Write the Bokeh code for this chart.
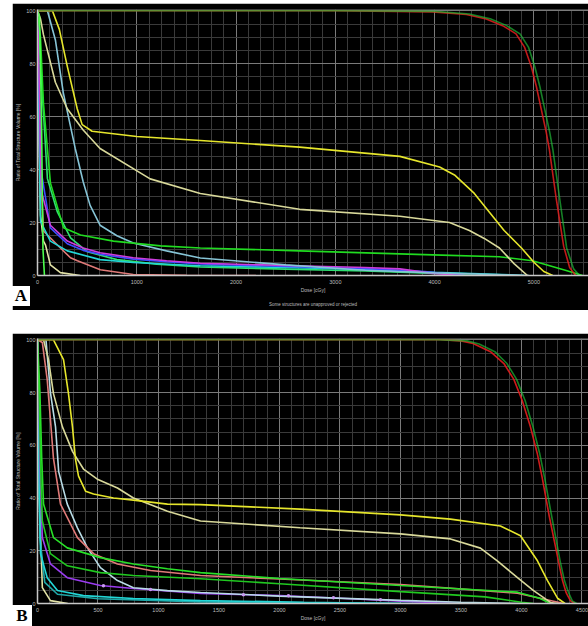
from bokeh.plotting import figure
from bokeh.layouts import column, row
from bokeh.models import Spacer, Range1d, SingleIntervalTicker, Title, Div
from bokeh.embed import file_html
from bokeh.resources import INLINE

# ---------------- Panel A data (dose cGy, volume %) ----------------
a_red_dose = [0, 3000, 3980, 4320, 4520, 4685, 4820, 4905, 4975, 5025, 5075, 5125, 5155, 5225, 5300, 5360, 5420]
a_red_vol = [100, 100, 99.6, 98.6, 96.9, 94.4, 91.3, 86.3, 78.8, 71.4, 62.7, 54, 47.8, 29, 11, 3, 0]
a_green_dose = [0, 3000, 4000, 4350, 4560, 4720, 4860, 4945, 5010, 5060, 5110, 5160, 5190, 5260, 5330, 5400, 5460]
a_green_vol = [100, 100, 99.8, 98.8, 97, 94.5, 91.3, 86.3, 78.8, 71.4, 62.7, 54, 47.8, 29, 10.4, 2.5, 0]
a_yellow_dose = [0, 150, 220, 300, 400, 450, 550, 1000, 1640, 2640, 3650, 4050, 4200, 4400, 4550, 4700, 4875, 5000, 5100, 5190]
a_yellow_vol = [100, 100, 93, 79, 63, 57, 54.5, 52.5, 51, 48.5, 45, 41, 38, 31, 24, 17, 10.4, 5, 1.5, 0]
a_khaki_dose = [0, 30, 60, 180, 300, 460, 630, 1135, 1640, 2640, 3650, 4150, 4350, 4500, 4653, 4800, 4935]
a_khaki_vol = [100, 97, 91, 73, 63, 55, 48, 36.5, 31, 25, 22.4, 20, 17, 14, 10.4, 4.5, 0]
a_ltblue_dose = [0, 100, 180, 260, 380, 460, 530, 630, 800, 965, 1300, 1640, 2500, 3300, 4000, 4950]
a_ltblue_vol = [100, 100, 89, 69, 48, 35.4, 26.5, 19, 15, 12.3, 9.3, 6.6, 4, 2, 1, 0]
a_grnup_dose = [0, 30, 60, 130, 262, 433, 765, 1240, 1640, 2640, 3980, 4650, 4985, 5325, 5490]
a_grnup_vol = [100, 90, 65, 35, 18, 15.3, 13, 11.2, 10.4, 9.3, 7.8, 7.1, 5.6, 1.9, 0]
a_magenta_dose = [0, 20, 30, 40, 130, 300, 460, 630, 965, 1300, 1640, 2500, 3300, 3650, 3980, 4200, 4300]
a_magenta_vol = [100, 70, 45, 31.7, 19, 13, 10.4, 8.6, 6.7, 5.6, 4.6, 3.8, 3, 2.5, 0.8, 0.2, 0]
a_blue_dose = [0, 20, 35, 130, 300, 460, 630, 965, 1300, 1640, 2500, 3300, 3900, 4300]
a_blue_vol = [100, 65, 40, 18, 12, 9.5, 8, 6.2, 5.2, 4.4, 3.4, 2.6, 1.5, 0]
a_cyan_dose = [0, 15, 30, 130, 300, 630, 965, 1640, 2500, 3300, 4000, 4600, 4900]
a_cyan_vol = [100, 60, 20.5, 13, 9.3, 6, 4.9, 3.7, 3, 2.3, 1.2, 0.5, 0]
a_grnlow_dose = [0, 30, 100, 200, 333, 500, 800, 1200, 1640, 2500, 3300, 4000, 4400]
a_grnlow_vol = [100, 80, 36.6, 24, 14.2, 9, 6, 4.3, 3.2, 2.4, 1.7, 0.8, 0]
a_pink_dose = [0, 20, 60, 231, 332, 402, 633, 965, 1500, 2200]
a_pink_vol = [100, 50, 16.8, 10.4, 6.7, 5.6, 2.2, 0.4, 0.1, 0]
a_beige_dose = [0, 10, 30, 60, 80, 130, 231, 430]
a_beige_vol = [100, 60, 22.8, 13, 11.6, 4, 1.1, 0]
a_lime_dose = [0, 20, 40, 55, 70]
a_lime_vol = [100, 98, 60, 10, 0]

# ---------------- Panel B data ----------------
b_red_dose = [0, 3330, 3500, 3600, 3744, 3855, 3937, 4006, 4074, 4130, 4170, 4230, 4306, 4339, 4370, 4405, 4440]
b_red_vol = [100, 100, 99.6, 98.6, 95.5, 91, 85, 77, 67, 57, 48, 33, 16, 8.7, 4, 1, 0]
b_green_dose = [0, 3300, 3550, 3650, 3780, 3880, 3960, 4030, 4095, 4150, 4190, 4250, 4320, 4355, 4390, 4420, 4455]
b_green_vol = [100, 100, 99.6, 98.4, 95.5, 91, 85, 77, 67, 57, 48, 33, 16, 8.7, 4, 1, 0]
b_yellow_dose = [0, 132, 215, 256, 289, 314, 339, 397, 463, 628, 793, 1074, 1347, 2170, 3000, 3413, 3826, 3992, 4132, 4215, 4298, 4360]
b_yellow_vol = [100, 100, 92.5, 79.6, 67, 54.7, 48.3, 42.6, 41.5, 40, 39.2, 37.7, 37.5, 35.8, 33.6, 32, 29.4, 25.7, 16.2, 8.7, 2, 0]
b_khaki_dose = [0, 50, 91, 132, 206, 289, 380, 500, 661, 793, 1074, 1347, 2170, 3000, 3413, 3661, 3800, 3967, 4100, 4240, 4300]
b_khaki_vol = [100, 100, 92.5, 79.6, 67, 57.7, 51, 47, 43.8, 40, 35, 31.3, 28.7, 26.4, 24.5, 21, 16.2, 9.8, 4.9, 0.4, 0]
b_ltblue_dose = [0, 70, 107, 149, 175, 246, 330, 413, 520, 661, 793, 1074, 1347, 2000, 3000, 3500, 4000]
b_ltblue_vol = [100, 100, 80, 67, 50, 37.7, 28.7, 21.1, 13.6, 8.7, 6, 4.9, 4.2, 2.8, 1.2, 0.5, 0]
b_salmon_dose = [0, 40, 80, 110, 132, 149, 190, 330, 463, 661, 934, 1347, 2000, 3000, 3967, 4200, 4350]
b_salmon_vol = [100, 99, 85, 68, 55, 50, 37.7, 25, 18.9, 15, 12.5, 10.6, 9.3, 7.2, 3.9, 1.5, 0]
b_grnup_dose = [0, 20, 35, 50, 132, 246, 520, 793, 1074, 1347, 2000, 3000, 3967, 4150, 4240]
b_grnup_vol = [100, 80, 55, 37.7, 25, 21.1, 17.4, 15, 13.2, 11.7, 9.5, 6.8, 4.3, 2, 0]
b_grnlow_dose = [0, 15, 30, 40, 107, 246, 520, 793, 1347, 2000, 3000, 3700, 4000, 4100]
b_grnlow_vol = [100, 75, 45, 31.3, 18.9, 14.3, 11.7, 10.6, 9.4, 7.5, 4.5, 2.5, 0.5, 0]
b_purple_dose = [0, 10, 25, 40, 107, 246, 520, 793, 1347, 2000, 2500, 3000, 3300, 3500]
b_purple_vol = [100, 80, 45, 25, 15, 9.8, 6.8, 5.7, 3.8, 3, 2, 0.9, 0.3, 0]
b_purple_mark_dose = [545, 934, 1702, 2074, 2446, 2835]
b_purple_mark_vol = [6.7, 5.3, 3.3, 2.9, 2.2, 1.4]
b_cyan_dose = [0, 8, 15, 25, 80, 165, 380, 793, 1347, 2200, 3000]
b_cyan_vol = [100, 70, 40, 18.9, 9.8, 4.9, 3, 1.9, 1.1, 0.5, 0]
b_teal_dose = [0, 10, 20, 60, 165, 500, 1347, 2500, 3500]
b_teal_vol = [100, 60, 25, 8, 3.5, 1.8, 0.6, 0.2, 0]
b_beige_dose = [0, 5, 15, 40, 107, 250]
b_beige_vol = [100, 80, 40, 6, 1.1, 0]

x_label = "Dose [cGy]"
y_label = "Ratio of Total Structure Volume [%]"
note_text = "Some structures are unapproved or rejected"
panel_letters = ["A", "B"]

GRID_MAJOR = "#7a7a7a"
GRID_MINOR = "#3a3a3a"
TXT = "#bdbdbd"


def make_panel(width, height, xmax, xint, xminor, top_border, bottom_border):
    p = figure(width=width, height=height, output_backend="svg", toolbar_location=None,
               x_range=Range1d(0, xmax), y_range=Range1d(0, 100.5),
               min_border_left=25, min_border_right=0, min_border_top=top_border,
               min_border_bottom=bottom_border)
    p.background_fill_color = "black"
    p.border_fill_color = "black"
    p.outline_line_color = None
    xt = SingleIntervalTicker(interval=xint, num_minor_ticks=xminor)
    yt = SingleIntervalTicker(interval=20, num_minor_ticks=4)
    p.xaxis.ticker = xt
    p.yaxis.ticker = yt
    p.xgrid.ticker = xt
    p.ygrid.ticker = yt
    for g in (p.xgrid, p.ygrid):
        g.grid_line_color = GRID_MAJOR
        g.grid_line_width = 1
        g.minor_grid_line_color = GRID_MINOR
        g.minor_grid_line_width = 1
    for ax in (p.xaxis, p.yaxis):
        ax.axis_line_color = "#c8c8c8"
        ax.axis_line_width = 1.5
        ax.major_tick_line_color = None
        ax.minor_tick_line_color = None
        ax.major_tick_in = 0
        ax.major_tick_out = 0
        ax.minor_tick_in = 0
        ax.minor_tick_out = 0
        ax.major_label_text_color = TXT
        ax.major_label_text_font = "Liberation Sans"
        ax.major_label_text_font_size = "5.5px"
        ax.axis_label_text_color = TXT
        ax.axis_label_text_font = "Liberation Sans"
        ax.axis_label_text_font_size = "5px"
        ax.axis_label_text_font_style = "normal"
    p.xaxis.axis_label = x_label
    p.xaxis.major_label_standoff = 4
    p.xaxis.axis_label_standoff = 0
    p.yaxis.axis_label = y_label
    p.yaxis.major_label_standoff = 2
    p.yaxis.axis_label_standoff = 2
    return p


W = 576
HA, HB = 307, 293
pA = make_panel(W, HA, 5550, 1000, 8, 6, 33)
pB = make_panel(W, HB, 4554, 500, 5, 5, 23)

LW = 1.6
curvesA = [
    (a_beige_dose, a_beige_vol, "#e2e2a6", 1),
    (a_pink_dose, a_pink_vol, "#e07a78", 1),
    (a_grnlow_dose, a_grnlow_vol, "#2ee070", 1),
    (a_cyan_dose, a_cyan_vol, "#22d6d6", 1),
    (a_blue_dose, a_blue_vol, "#3c4cff", 1),
    (a_magenta_dose, a_magenta_vol, "#cc3cdc", 1),
    (a_ltblue_dose, a_ltblue_vol, "#86c4d6", 1),
    (a_grnup_dose, a_grnup_vol, "#20dc20", 1),
    (a_khaki_dose, a_khaki_vol, "#d9d99a", 1),
    (a_yellow_dose, a_yellow_vol, "#e6e62c", 1),
    (a_lime_dose, a_lime_vol, "#4cff4c", 1),
    (a_red_dose, a_red_vol, "#e41e1e", 0.85),
    (a_green_dose, a_green_vol, "#22c43a", 0.65),
]
for xs, ys, c, al in curvesA:
    pA.line(xs, ys, line_color=c, line_width=LW, line_alpha=al)

curvesB = [
    (b_beige_dose, b_beige_vol, "#e2e2a6", 1),
    (b_teal_dose, b_teal_vol, "#1fa8a8", 1),
    (b_cyan_dose, b_cyan_vol, "#22d6d6", 1),
    (b_purple_dose, b_purple_vol, "#9a3cf0", 1),
    (b_ltblue_dose, b_ltblue_vol, "#b8dce6", 1),
    (b_grnlow_dose, b_grnlow_vol, "#20c820", 1),
    (b_salmon_dose, b_salmon_vol, "#e07a78", 1),
    (b_grnup_dose, b_grnup_vol, "#28e028", 1),
    (b_khaki_dose, b_khaki_vol, "#d9d99a", 1),
    (b_yellow_dose, b_yellow_vol, "#e6e62c", 1),
    (b_red_dose, b_red_vol, "#e41e1e", 0.9),
    (b_green_dose, b_green_vol, "#22c43a", 0.65),
]
for xs, ys, c, al in curvesB:
    pB.line(xs, ys, line_color=c, line_width=LW, line_alpha=al)
pB.scatter(b_purple_mark_dose, b_purple_mark_vol, size=3.5, marker="circle",
           fill_color="#c89af0", line_color=None)

note = Title(text=note_text, align="center", text_color=TXT, text_font="Liberation Sans",
             text_font_size="4.5px", text_font_style="normal", standoff=8)
pA.add_layout(note, "below")


def letter_box(letter, w, h, top_margin):
    st = {"background-color": "white", "color": "black", "font-family": "Liberation Serif",
          "font-weight": "bold", "font-size": "17px", "text-align": "center",
          "line-height": "%dpx" % h, "position": "relative", "z-index": "10",
          "overflow": "hidden"}
    return Div(text=letter, width=w, height=h, margin=(top_margin, 0, 0, 12), styles=st)


boxA = letter_box(panel_letters[0], 18, 20, -24)
boxB = letter_box(panel_letters[1], 20, 21, -21)

layout = column(Spacer(width=588, height=3),
                row(Spacer(width=12, height=HA), pA),
                boxA,
                Spacer(width=588, height=27),
                row(Spacer(width=12, height=HB), pB),
                boxB)

open("out.html", "w").write(file_html(layout, INLINE))
